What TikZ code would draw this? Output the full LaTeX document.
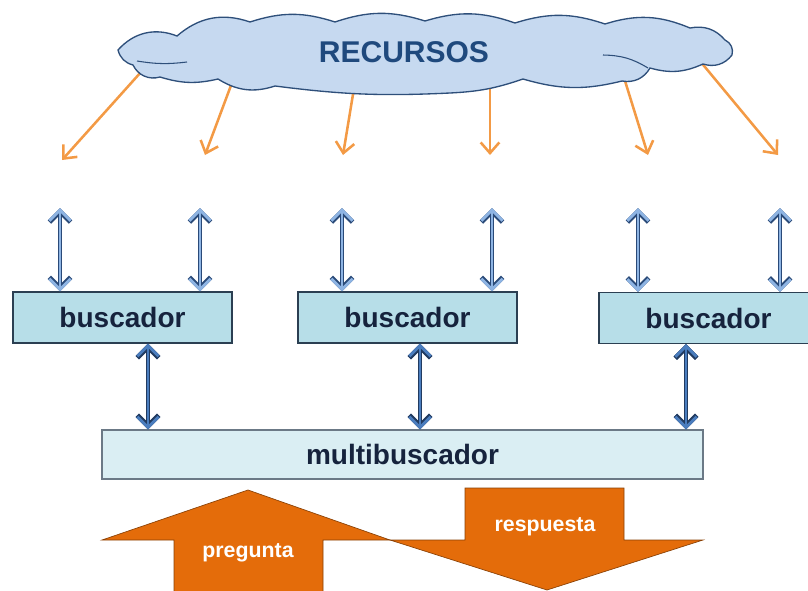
\documentclass[tikz,border=0pt]{standalone}
\usepackage{fontspec}
\setmainfont{Liberation Sans}
\usetikzlibrary{arrows.meta}

\definecolor{nube}{HTML}{C6D9F0}
\definecolor{nubeborde}{HTML}{2E4F7A}
\definecolor{recursos}{HTML}{1F497D}
\definecolor{naranja}{HTML}{F39A45}
\definecolor{claro}{HTML}{8EB4E3}
\definecolor{oscuro}{HTML}{4A7DBE}
\definecolor{bordeflecha}{HTML}{2A4A78}
\definecolor{caja}{HTML}{B7DEE8}
\definecolor{cajamulti}{HTML}{DAEEF3}
\definecolor{bordecaja}{HTML}{2B3F52}
\definecolor{letra}{HTML}{16233D}
\definecolor{flecha}{HTML}{E46C0A}

\begin{document}
\begin{tikzpicture}[x=0.75pt,y=-0.75pt,
  buscador/.style={draw=bordecaja, fill=caja, line width=0.8pt,
    minimum width=164.25pt, minimum height=38.25pt,
    font=\fontsize{21}{25}\selectfont\bfseries, text=letra},
  lightlink/.style={{Straight Barb[length=8pt,width=16pt]}-{Straight Barb[length=8pt,width=16pt]},
    line width=2.2pt, draw=claro,
    preaction={draw=bordeflecha, line width=3.6pt}},
  darklink/.style={lightlink, draw=oscuro,
    preaction={draw=bordeflecha!80!black, line width=3.6pt}},
  recurso/.style={-{Straight Barb[length=8pt,width=14pt]}, line width=1.9pt, draw=naranja},
  blanco/.style={text=white, font=\fontsize{16}{19}\selectfont\bfseries}]

\useasboundingbox (0,0) rectangle (808,590);

% flechas desde los recursos
\foreach \sx/\sy/\ex/\ey [count=\i] in {150/62/62/160, 236/72/205/155, 357/70/343/155,
    490/78/490/155, 621/68/648/155, 695/55/778/155} {
  \coordinate (s\i) at (\sx,\sy);
  \coordinate (r\i) at (\ex,\ey);
  \draw[recurso] (s\i) -- (r\i);
}

% nube
\draw[draw=nubeborde, fill=nube, line width=1pt]
  (118,50) to[bend left=35] (177,36) to[bend left=30] (250,22)
  to[bend left=18] (335,22) to[bend left=18] (425,21) to[bend left=18] (515,23)
  to[bend left=18] (605,24) to[bend left=20] (690,28)
  to[bend left=30] (725,40) to[bend left=40] (732,55) to[bend left=35] (703,64)
  to[bend left=20] (650,68) to[bend left=35] (622,81) to[bend left=15] (523,79)
  to[bend left=8] (450,93) to[bend left=5] (275,86) to[bend left=25] (218,79)
  to[bend left=15] (160,77) to[bend left=40] (133,65) to[bend left=30] cycle;
\draw[nubeborde, line width=0.8pt] (137,61) to[bend right=8] (187,62);
\draw[nubeborde, line width=0.8pt] (603,55) to[bend left=15] (648,68);
\node[text=recursos, font=\fontsize{22.5}{26}\selectfont\bfseries] (rec) at (404,52) {RECURSOS};

% buscadores
\node[buscador] (b1) at (122.5,317.5) {buscador};
\node[buscador] (b2) at (407.5,317.5) {buscador};
\node[buscador] (b3) at (708.5,318) {buscador};

\node[draw=bordecaja!70, fill=cajamulti, line width=0.8pt,
  minimum width=450.75pt, minimum height=36.75pt,
  font=\fontsize{21}{25}\selectfont\bfseries, text=letra] (multi) at (402.5,454.5) {multibuscador};

\foreach \x/\b [count=\i] in {60/b1, 200/b1, 342/b2, 492/b2, 638/b3, 780/b3} {
  \coordinate (t\i) at (\x,208);
  \draw[lightlink] (t\i) -- (t\i |- \b.north);
}

\foreach \x/\b [count=\i] in {148/b1, 420/b2, 686/b3} {
  \coordinate (d\i) at (\x,400);
  \draw[darklink] (d\i |- \b.south) -- (d\i |- multi.north);
}

% pregunta / respuesta
\draw[fill=flecha, draw=flecha!60!black, line width=0.5pt]
  (102,540) -- (248,490) -- (390,540) -- (323,540) -- (323,600)
  -- (174,600) -- (174,540) -- cycle;
\draw[fill=flecha, draw=flecha!60!black, line width=0.5pt]
  (465,488) -- (624,488) -- (624,540) -- (703,540) -- (547,590)
  -- (390,540) -- (465,540) -- cycle;
\node[blanco] (preg) at (248,553) {pregunta};
\node[blanco] (resp) at (545,527) {respuesta};

\end{tikzpicture}
\end{document}
